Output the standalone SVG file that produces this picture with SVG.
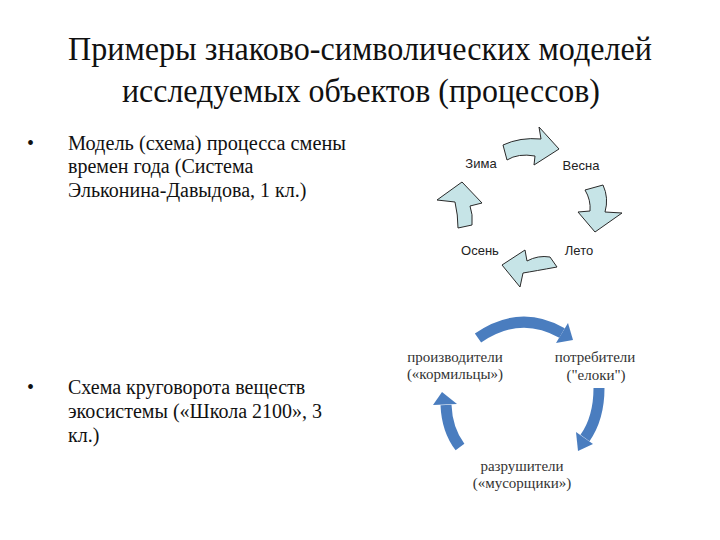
<svg xmlns="http://www.w3.org/2000/svg" width="720" height="540" viewBox="0 0 720 540">
<style>
.title{font-family:"Liberation Serif","DejaVu Serif","Times New Roman",serif;font-size:34px;fill:#111;text-anchor:middle}
.body{font-family:"Liberation Serif","DejaVu Serif","Times New Roman",serif;font-size:20px;fill:#111}
.season{font-family:"Liberation Sans",Arial,sans-serif;font-size:13px;fill:#222;text-anchor:middle}
.eco{font-family:"Liberation Serif","DejaVu Serif","Times New Roman",serif;font-size:15px;fill:#333;text-anchor:middle}
.sarrow{fill:#c6e4e7;stroke:#2a2a2a;stroke-width:1;stroke-linejoin:round}
.earc{fill:none;stroke:#4a7dbf;stroke-width:11}
.ehead{fill:#4a7dbf}
</style>
<rect width="720" height="540" fill="#fff"/>
<g id="title">
<text class="title" x="360" y="60" textLength="584" lengthAdjust="spacingAndGlyphs">Примеры знаково-символических моделей</text>
<text class="title" x="361" y="102" textLength="478" lengthAdjust="spacingAndGlyphs">исследуемых объектов (процессов)</text>
</g>
<g id="bullet1">
<text class="body" x="27" y="150">•</text>
<text class="body" x="68" y="150" textLength="278" lengthAdjust="spacingAndGlyphs">Модель (схема) процесса смены</text>
<text class="body" x="68" y="173">времен года (Система</text>
<text class="body" x="68" y="197">Эльконина-Давыдова, 1 кл.)</text>
</g>
<g id="bullet2">
<text class="body" x="27" y="394">•</text>
<text class="body" x="68" y="394">Схема круговорота веществ</text>
<text class="body" x="68" y="418">экосистемы («Школа 2100», 3</text>
<text class="body" x="68" y="442">кл.)</text>
</g>
<g id="seasons-connectors">
<path class="sarrow" d="M503,145 Q520,137 541,139 L539,127 L559,149 L534,165 L535,156 Q518,153 507,160 Z"/>
<path class="sarrow" d="M585,190 L603,185 Q609,198 605,212 L622,213 L595,232 L578,212 L590,211 Q591,200 585,190 Z"/>
<path class="sarrow" d="M557,267 L550,257 Q538,255 527,261 L525,250 L502,265 L520,287 L523,273 Q535,271 557,267 Z"/>
<path class="sarrow" d="M458,228 L472,225 Q473,214 470,206 L482,203 L462,182 L437,200 L455,202 Q458,215 458,228 Z"/>
</g>
<g id="zima"><text class="season" x="481" y="168">Зима</text></g>
<g id="vesna"><text class="season" x="581" y="170">Весна</text></g>
<g id="leto"><text class="season" x="579" y="255">Лето</text></g>
<g id="osen"><text class="season" x="480" y="255">Осень</text></g>
<g id="eco-connectors">
<path class="earc" d="M478,338 Q520,309 562,333"/>
<polygon class="ehead" points="556,343 568,323 573,340"/>
<path class="earc" d="M599,388 Q599,418 585,438"/>
<polygon class="ehead" points="593,444 576,432 578,451"/>
<path class="earc" d="M460,447 Q447,430 446,405"/>
<polygon class="ehead" points="433,405 457,404 442,392"/>
</g>
<g id="producers">
<text class="eco" x="455" y="362">производители</text>
<text class="eco" x="455" y="379">(«кормильцы»)</text>
</g>
<g id="consumers">
<text class="eco" x="595" y="362">потребители</text>
<text class="eco" x="596" y="380">("елоки")</text>
</g>
<g id="decomposers">
<text class="eco" x="522" y="471">разрушители</text>
<text class="eco" x="522" y="488">(«мусорщики»)</text>
</g>
</svg>
